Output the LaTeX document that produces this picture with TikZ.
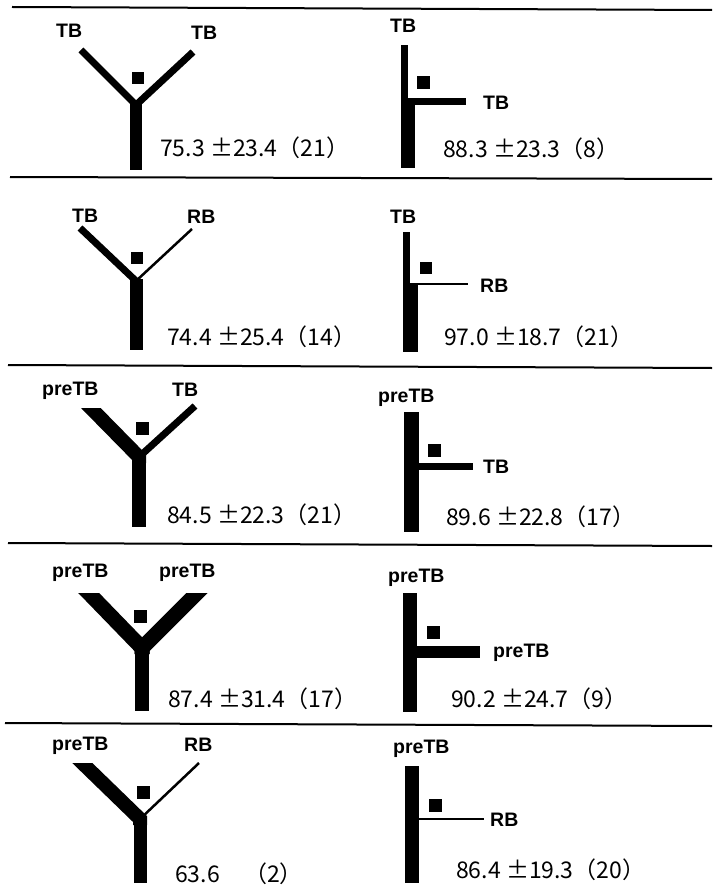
\documentclass[tikz,border=0pt]{standalone}
\usepackage{fontspec}
\setmainfont{Liberation Sans}
\newfontfamily\cjk{Noto Sans CJK JP}
\begin{document}
\begin{tikzpicture}[x=1pt,y=-1pt,
  lbl/.style={font=\bfseries\fontsize{19.5}{20}\selectfont, inner sep=0pt, anchor=base west},
  num/.style={font=\cjk\fontsize{23}{24}\selectfont, inner sep=0pt, anchor=base west},
  sq/.style={fill=black, minimum size=#1, inner sep=0pt, outer sep=0pt},
  arm/.style={line width=#1, line join=miter, line cap=butt},
  sepline/.style={line width=2pt}]
\useasboundingbox (0,0) rectangle (712,896);
% separators
\draw[sepline] (12,7) -- (712,10);
\draw[sepline] (10,177) -- (712,179);
\draw[sepline] (8,365) -- (712,368);
\draw[sepline] (8,543) -- (712,546);
\draw[sepline] (5,723) -- (712,726);

% ---------- Row 1 left ----------
\draw[arm=7pt] (81,50) -- (136,105) -- (136,111);
\draw[arm=7pt] (193,52) -- (136,105) -- (136,111);
\fill (130,103) rectangle (142,170);
\node[sq=12pt] (s1) at (138,78) {};
\node[lbl] (l1a) at (56,38) {TB};
\node[lbl] (l1b) at (191,40) {TB};
\node[num] (n1) at (160,157) {75.3 ±23.4（21）};

% ---------- Row 1 right ----------
\fill (401,45) rectangle (408,100);
\fill (401,100) rectangle (415,168);
\fill (408,98.5) rectangle (466,105);
\node[sq=13pt] (s2) at (423,83) {};
\node[lbl] (l2a) at (390,33) {TB};
\node[lbl] (l2b) at (483,110) {TB};
\node[num] (n2) at (443,158) {88.3 ±23.3（8）};

% ---------- Row 2 left ----------
\draw[arm=7pt] (80,228) -- (136,281) -- (136,287);
\draw[arm=2.5pt] (192,229) -- (136,281) -- (136,287);
\fill (129.5,279) rectangle (142.5,350);
\node[sq=12pt] (s3) at (137,258) {};
\node[lbl] (l3a) at (72,222) {TB};
\node[lbl] (l3b) at (187,223) {RB};
\node[num] (n3) at (167,345) {74.4 ±25.4（14）};

% ---------- Row 2 right ----------
\fill (403,232) rectangle (409.5,283);
\fill (403,283) rectangle (418,352);
\draw[line width=2pt] (409,284.3) -- (468,284.3);
\node[sq=12pt] (s4) at (426,268) {};
\node[lbl] (l4a) at (390,223) {TB};
\node[lbl] (l4b) at (480,292) {RB};
\node[num] (n4) at (444,345) {97.0 ±18.7（21）};

% ---------- Row 3 left ----------
\begin{scope}
  \clip (0,408) rectangle (712,896);
  \draw[arm=14pt] (81,398) -- (139,457) -- (139,463);
\end{scope}
\draw[arm=7pt] (195,406) -- (139,457) -- (139,463);
\fill (132,455) rectangle (146,527);
\node[sq=13pt] (s5) at (142,428) {};
\node[lbl] (l5a) at (42,395) {preTB};
\node[lbl] (l5b) at (172,396) {TB};
\node[num] (n5) at (167,523) {84.5 ±22.3（21）};

% ---------- Row 3 right ----------
\fill (404,412) rectangle (419,532);
\fill (419,463) rectangle (473,469.5);
\node[sq=13pt] (s6) at (434,450) {};
\node[lbl] (l6a) at (378,402) {preTB};
\node[lbl] (l6b) at (483,473) {TB};
\node[num] (n6) at (446,525) {89.6 ±22.8（17）};

% ---------- Row 4 left ----------
\begin{scope}
  \clip (0,593) rectangle (712,896);
  \draw[arm=15pt] (79,583) -- (142,648) -- (142,654);
  \draw[arm=15pt] (207,583) -- (142,648) -- (142,654);
\end{scope}
\fill (135,646) rectangle (149,711);
\node[sq=13pt] (s7) at (140,616) {};
\node[lbl] (l7a) at (52,577) {preTB};
\node[lbl] (l7b) at (159,577) {preTB};
\node[num] (n7) at (168,707) {87.4 ±31.4（17）};

% ---------- Row 4 right ----------
\fill (403,593) rectangle (417,712);
\fill (417,646) rectangle (480,658);
\node[sq=13pt] (s8) at (433,632) {};
\node[lbl] (l8a) at (388,582) {preTB};
\node[lbl] (l8b) at (493,657) {preTB};
\node[num] (n8) at (451,707) {90.2 ±24.7（9）};

% ---------- Row 5 left ----------
\begin{scope}
  \clip (0,763) rectangle (712,896);
  \draw[arm=14pt] (72,753) -- (140,819) -- (140,825);
\end{scope}
\draw[arm=2.5pt] (199,763) -- (140,819) -- (140,825);
\fill (133.5,817) rectangle (146.5,883);
\node[sq=13pt] (s9) at (143,792) {};
\node[lbl] (l9a) at (52,750) {preTB};
\node[lbl] (l9b) at (184,751) {RB};
\node[num] (n9a) at (175,882) {63.6};
\node[num] (n9b) at (244,882) {（2）};

% ---------- Row 5 right ----------
\fill (405,766) rectangle (419,883);
\draw[line width=2pt] (419,819) -- (484,819);
\node[sq=13pt] (s10) at (435,805) {};
\node[lbl] (l10a) at (393,753) {preTB};
\node[lbl] (l10b) at (490,826) {RB};
\node[num] (n10) at (456,878) {86.4 ±19.3（20）};
\end{tikzpicture}
\end{document}
